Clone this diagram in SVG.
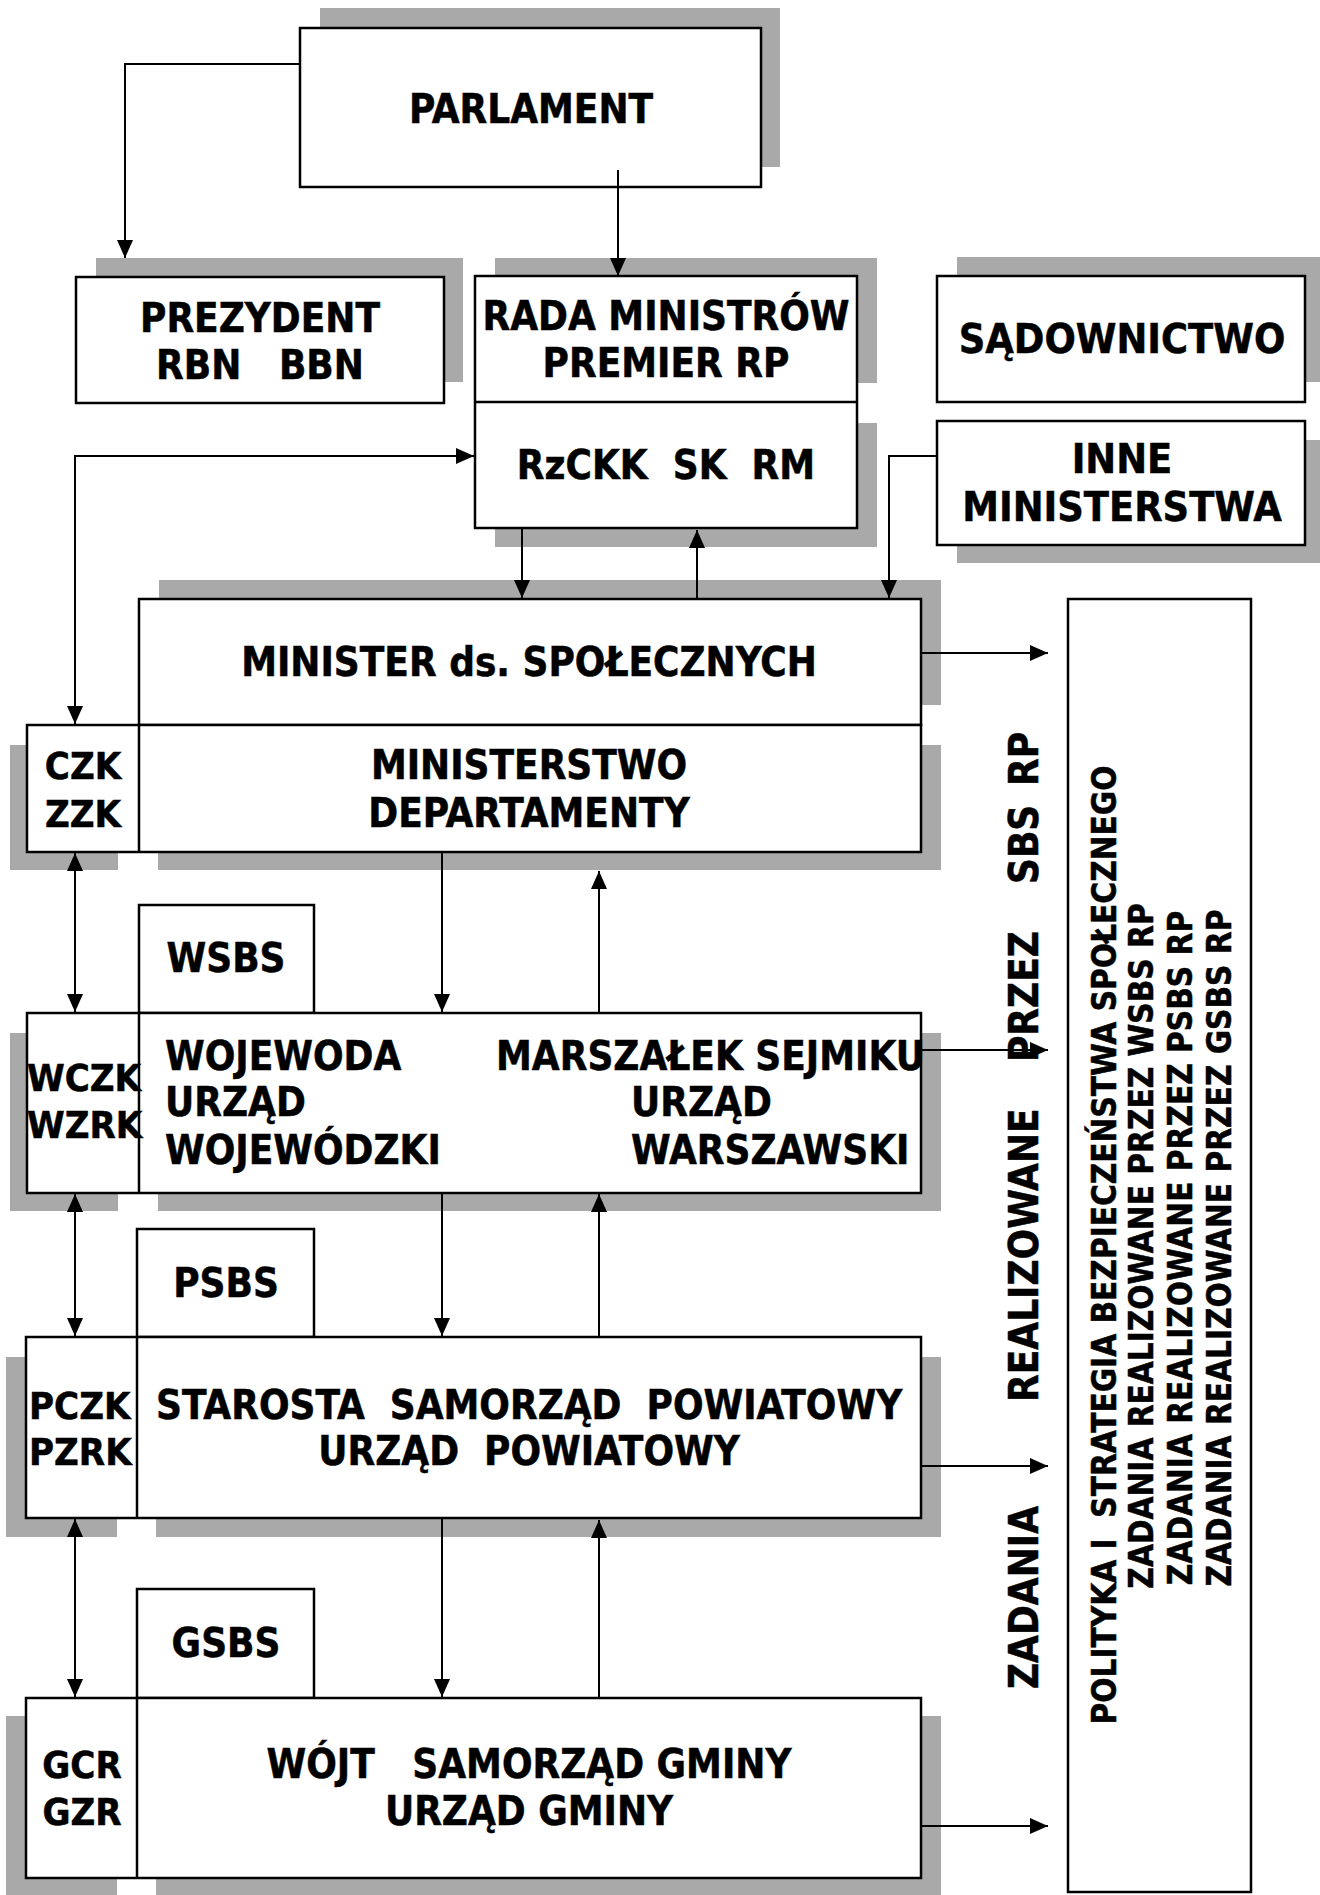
<svg xmlns="http://www.w3.org/2000/svg" width="1320" height="1895" viewBox="0 0 1320 1895">
<style>
.t{font-family:"DejaVu Sans Condensed","DejaVu Sans",sans-serif;font-weight:bold;font-stretch:condensed;font-size:40px;fill:#000;stroke:#000;stroke-width:0.5}
.m{font-size:38px}
.w{font-size:41px}
.s{font-size:33px}
.c{text-anchor:middle}
.b{fill:#fff;stroke:#000;stroke-width:2.5}
.l{fill:none;stroke:#000;stroke-width:2.5}
.sh{fill:#a9a9a9}
.k{fill:none;stroke:#000;stroke-width:2}
.a{marker-end:url(#ah)}
.d{marker-start:url(#ah);marker-end:url(#ah)}
</style>
<defs>
<marker id="ah" markerUnits="userSpaceOnUse" viewBox="0 0 18 16" refX="18" refY="8" markerWidth="18" markerHeight="16" orient="auto-start-reverse">
<path d="M0,0 L18,8 L0,16 z" fill="#000"/>
</marker>
</defs>
<rect width="1320" height="1895" fill="#fff"/>
<g id="shadows">
<rect class="sh" x="320" y="8" width="460" height="159"/>
<rect class="sh" x="96" y="258" width="367" height="124"/>
<rect class="sh" x="495" y="258" width="382" height="125"/>
<rect class="sh" x="495" y="423" width="382" height="124"/>
<rect class="sh" x="957" y="257" width="363" height="125"/>
<rect class="sh" x="957" y="440" width="363" height="123"/>
<rect class="sh" x="159" y="580" width="782" height="125"/>
<rect class="sh" x="10" y="745" width="108" height="125"/>
<rect class="sh" x="158" y="745" width="783" height="125"/>
<rect class="sh" x="10" y="1033" width="108" height="178"/>
<rect class="sh" x="158" y="1033" width="783" height="178"/>
<rect class="sh" x="6" y="1357" width="111" height="180"/>
<rect class="sh" x="156" y="1357" width="785" height="180"/>
<rect class="sh" x="6" y="1716" width="111" height="179"/>
<rect class="sh" x="156" y="1716" width="785" height="179"/>
</g>
<g id="parlament">
<rect class="b" x="300" y="28" width="461" height="159"/>
<text class="t c" x="531" y="123">PARLAMENT</text>
</g>
<g id="prezydent">
<rect class="b" x="76" y="277" width="368" height="126"/>
<text class="t c" x="260" y="332">PREZYDENT</text>
<text class="t c" x="260" y="379" xml:space="preserve">RBN   BBN</text>
</g>
<g id="rada">
<rect class="b" x="475" y="276" width="382" height="252"/>
<line class="l" x1="475" y1="402" x2="857" y2="402"/>
<text class="t c" x="666" y="330">RADA MINISTRÓW</text>
<text class="t c" x="666" y="377">PREMIER RP</text>
<text class="t c" x="666" y="479" xml:space="preserve">RzCKK  SK  RM</text>
</g>
<g id="sadownictwo">
<rect class="b" x="937" y="276" width="368" height="126"/>
<text class="t w c" x="1122" y="353">SĄDOWNICTWO</text>
</g>
<g id="inne">
<rect class="b" x="937" y="421" width="368" height="124"/>
<text class="t w c" x="1122" y="473">INNE</text>
<text class="t w c" x="1122" y="521">MINISTERSTWA</text>
</g>
<g id="minister">
<rect class="b" x="139" y="599" width="782" height="126"/>
<text class="t c" x="529" y="676">MINISTER ds. SPOŁECZNYCH</text>
</g>
<g id="ministerstwo">
<rect class="b" x="27" y="725" width="894" height="127"/>
<line class="l" x1="139" y1="725" x2="139" y2="852"/>
<text class="t m c" x="83" y="779">CZK</text>
<text class="t m c" x="83" y="827">ZZK</text>
<text class="t c" x="529" y="779">MINISTERSTWO</text>
<text class="t c" x="529" y="827">DEPARTAMENTY</text>
</g>
<g id="wsbs">
<rect class="b" x="139" y="905" width="175" height="108"/>
<text class="t c" x="226" y="972">WSBS</text>
</g>
<g id="wojewoda">
<rect class="b" x="27" y="1013" width="894" height="180"/>
<line class="l" x1="139" y1="1013" x2="139" y2="1193"/>
<text class="t m" x="27" y="1091">WCZK</text>
<text class="t m" x="27" y="1138">WZRK</text>
<text class="t" x="165" y="1070">WOJEWODA</text>
<text class="t" x="165" y="1116">URZĄD</text>
<text class="t" x="165" y="1164">WOJEWÓDZKI</text>
<text class="t" x="496" y="1070">MARSZAŁEK SEJMIKU</text>
<text class="t" x="631" y="1116">URZĄD</text>
<text class="t" x="631" y="1164">WARSZAWSKI</text>
</g>
<g id="psbs">
<rect class="b" x="137" y="1229" width="177" height="108"/>
<text class="t c" x="226" y="1297">PSBS</text>
</g>
<g id="starosta">
<rect class="b" x="26" y="1337" width="895" height="181"/>
<line class="l" x1="137" y1="1337" x2="137" y2="1518"/>
<text class="t m" x="29" y="1419">PCZK</text>
<text class="t m" x="29" y="1465">PZRK</text>
<text class="t" x="156" y="1419" xml:space="preserve">STAROSTA  SAMORZĄD  POWIATOWY</text>
<text class="t c" x="529" y="1465" xml:space="preserve">URZĄD  POWIATOWY</text>
</g>
<g id="gsbs">
<rect class="b" x="137" y="1589" width="177" height="109"/>
<text class="t c" x="226" y="1657">GSBS</text>
</g>
<g id="wojt">
<rect class="b" x="26" y="1698" width="895" height="180"/>
<line class="l" x1="137" y1="1698" x2="137" y2="1878"/>
<text class="t m c" x="82" y="1778">GCR</text>
<text class="t m c" x="82" y="1825">GZR</text>
<text class="t c" x="529" y="1778" xml:space="preserve">WÓJT   SAMORZĄD GMINY</text>
<text class="t c" x="529" y="1825">URZĄD GMINY</text>
</g>
<g id="polityka">
<rect class="b" x="1068" y="599" width="183" height="1293"/>
<text class="t s c" transform="translate(1116,1245) rotate(-90)" xml:space="preserve">POLITYKA I  STRATEGIA BEZPIECZEŃSTWA SPOŁECZNEGO</text>
<text class="t s c" transform="translate(1153,1246) rotate(-90)">ZADANIA REALIZOWANE PRZEZ WSBS RP</text>
<text class="t s c" transform="translate(1192,1248) rotate(-90)">ZADANIA REALIZOWANE PRZEZ PSBS RP</text>
<text class="t s c" transform="translate(1231,1248) rotate(-90)">ZADANIA REALIZOWANE PRZEZ GSBS RP</text>
</g>
<g id="zadania-label">
<text class="t" transform="translate(1038,0) rotate(-90)"><tspan x="-1689" y="0">ZADANIA</tspan><tspan x="-1402" y="0">REALIZOWANE</tspan><tspan x="-1062" y="0">PRZEZ</tspan><tspan x="-884" y="0">SBS</tspan><tspan x="-786" y="0">RP</tspan></text>
</g>
<g id="connectors">
<polyline class="k a" points="300,64 125,64 125,258"/>
<line class="k a" x1="618" y1="170" x2="618" y2="276"/>
<polyline class="k d" points="75,724 75,456 474,456"/>
<line class="k a" x1="522" y1="528" x2="522" y2="598"/>
<line class="k a" x1="697" y1="599" x2="697" y2="530"/>
<polyline class="k a" points="937,456 889,456 889,598"/>
<line class="k a" x1="921" y1="653" x2="1048" y2="653"/>
<line class="k d" x1="75" y1="853" x2="75" y2="1012"/>
<line class="k a" x1="442" y1="852" x2="442" y2="1012"/>
<line class="k a" x1="599" y1="1013" x2="599" y2="871"/>
<line class="k a" x1="921" y1="1050" x2="1048" y2="1050"/>
<line class="k d" x1="75" y1="1194" x2="75" y2="1336"/>
<line class="k a" x1="442" y1="1193" x2="442" y2="1336"/>
<line class="k a" x1="599" y1="1337" x2="599" y2="1194"/>
<line class="k a" x1="921" y1="1466" x2="1048" y2="1466"/>
<line class="k d" x1="75" y1="1519" x2="75" y2="1697"/>
<line class="k a" x1="442" y1="1518" x2="442" y2="1697"/>
<line class="k a" x1="599" y1="1698" x2="599" y2="1520"/>
<line class="k a" x1="921" y1="1826" x2="1048" y2="1826"/>
</g>
</svg>
